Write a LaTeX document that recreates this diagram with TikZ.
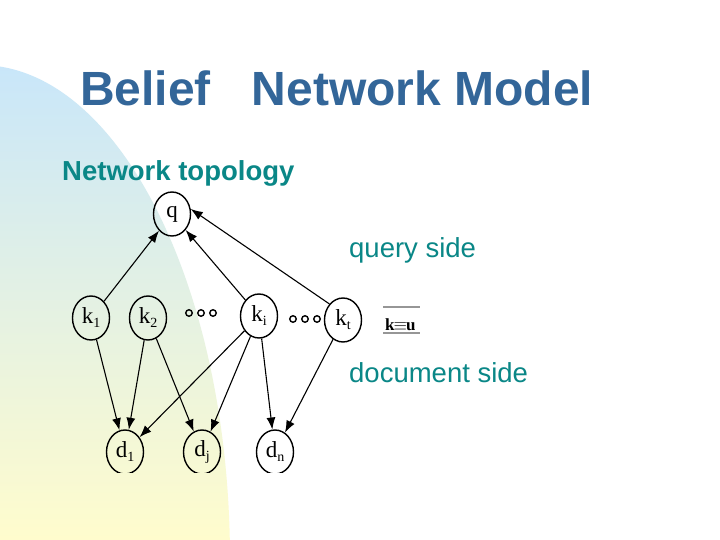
\documentclass[tikz,border=0pt]{standalone}
\usepackage{fontspec}
\setmainfont{Liberation Serif}
\newfontfamily\arialf{Liberation Sans}
\usetikzlibrary{shapes.geometric,arrows.meta}
\definecolor{titleblue}{RGB}{51,102,153}
\definecolor{tealtxt}{RGB}{10,135,135}
\definecolor{bgblue}{RGB}{200,230,250}
\definecolor{bgyellow}{RGB}{255,252,205}
\definecolor{rulegray}{RGB}{150,150,150}
\newcommand{\nlab}[2]{{\fontsize{23}{23}\selectfont #1}\raisebox{-4pt}{\fontsize{14}{14}\selectfont #2}}
\tikzset{
  netnode/.style={ellipse, draw, line width=1.4pt, minimum width=37pt, minimum height=44pt, inner sep=0pt, font=\fontsize{23}{23}\selectfont},
  netarrow/.style={line width=1.1pt, -{Latex[length=12pt,width=9pt]}},
  dotc/.style={circle, draw, line width=1.4pt, minimum size=6.5pt, inner sep=0pt},
}
\begin{document}
\begin{tikzpicture}[x=1pt,y=-1pt]
\useasboundingbox (0,0) rectangle (720,540);
\fill[white] (0,0) rectangle (720,540);
% background shape
\begin{scope}
  \clip (-20,560) ellipse [x radius=250pt, y radius=495pt];
  \shade[top color=bgblue, bottom color=bgyellow] (0,60) rectangle (260,540);
\end{scope}
% texts
\node[anchor=base west, inner sep=0pt, text=titleblue, font=\arialf\bfseries\fontsize{48}{48}\selectfont] (title) at (80,106) {Belief\hspace{41pt}Network Model};
\node[anchor=base west, inner sep=0pt, text=tealtxt, font=\arialf\bfseries\fontsize{27.5}{28}\selectfont] (topo) at (62,181) {Network topology};
\node[anchor=base west, inner sep=0pt, text=tealtxt, font=\arialf\fontsize{27.5}{28}\selectfont] (qside) at (349,258) {query side};
\node[anchor=base west, inner sep=0pt, text=tealtxt, font=\arialf\fontsize{27.5}{28}\selectfont] (dside) at (349,382) {document side};
% legend k=u
\draw[rulegray, line width=1.3pt] (383,307) -- (420,307);
\draw[rulegray, line width=1.3pt] (383,333) -- (420,333);
\node[anchor=base west, inner sep=0pt, font=\bfseries\fontsize{17}{17}\selectfont] (keu) at (385,330) {k\kern-1pt$\equiv$\kern-1pt u};
% graph
\begin{scope}
\clip (0,0) rectangle (720,472);
\node[netnode] (q) at (172,214) {q};
\node[netnode] (k1) at (91,318) {\nlab{k}{1}};
\node[netnode] (k2) at (148,318) {\nlab{k}{2}};
\node[netnode] (ki) at (259,316) {\nlab{k}{i}};
\node[netnode] (kt) at (343,320) {\nlab{k}{t}};
\node[netnode] (d1) at (125,452) {\nlab{d}{1}};
\node[netnode] (dj) at (202,452) {\nlab{d}{j}};
\node[netnode] (dn) at (275,452) {\nlab{d}{n}};
\foreach \x [count=\n] in {189,201,213} \node[dotc] (da\n) at (\x,313) {};
\foreach \x [count=\n] in {293,305,317} \node[dotc] (db\n) at (\x,319) {};
\draw[netarrow] (k1) -- (q);
\draw[netarrow] (ki) -- (q);
\draw[netarrow] (kt.north west) -- (q.15);
\draw[netarrow] (k1) -- (d1);
\draw[netarrow] (k2) -- (d1);
\draw[netarrow] (k2) -- (dj);
\draw[netarrow] (ki) -- (d1);
\draw[netarrow] (ki) -- (dj);
\draw[netarrow] (ki) -- (dn);
\draw[netarrow] (kt) -- (dn);
\end{scope}
\end{tikzpicture}
\end{document}
